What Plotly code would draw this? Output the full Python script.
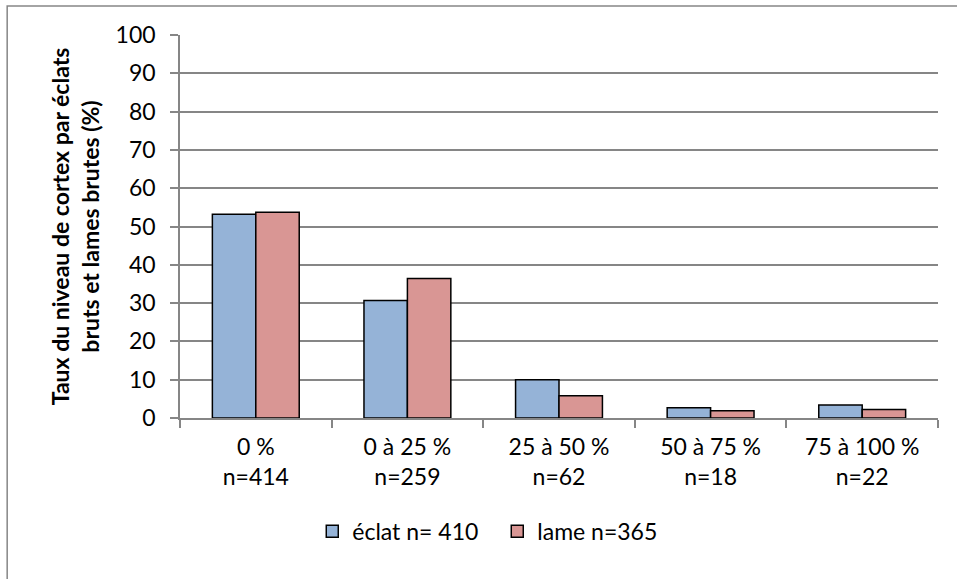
import plotly.graph_objects as go

# Cortex coverage classes with their total counts
categories = ["0 %<br>n=414", "0 à 25 %<br>n=259", "25 à 50 %<br>n=62",
              "50 à 75 %<br>n=18", "75 à 100 %<br>n=22"]
eclat_values = [53.2, 30.7, 10.0, 2.7, 3.4]
lame_values = [53.7, 36.4, 5.8, 1.9, 2.2]
eclat_name = "éclat n= 410"
lame_name = "lame n=365"
y_ticks = [0, 10, 20, 30, 40, 50, 60, 70, 80, 90, 100]

font_family = "Lato, Open Sans, sans-serif"
grid_color = "#868686"
fs = 23

fig = go.Figure()
fig.add_trace(go.Bar(
    x=categories, y=eclat_values, name=eclat_name,
    marker=dict(color="#95B3D7", line=dict(color="#000000", width=1.5)),
))
fig.add_trace(go.Bar(
    x=categories, y=lame_values, name=lame_name,
    marker=dict(color="#D99694", line=dict(color="#000000", width=1.5)),
))

fig.update_layout(
    width=957, height=579,
    margin=dict(l=180, r=19, t=35, b=161),
    paper_bgcolor="white", plot_bgcolor="white",
    barmode="group", bargap=0.427, bargroupgap=0,
    font=dict(family=font_family, size=fs, color="#000000"),
    showlegend=True,
    legend=dict(orientation="h", x=0.1745, xanchor="left", y=-0.24, yanchor="top",
                font=dict(size=fs), traceorder="normal", itemwidth=30,
                entrywidth=140),
    shapes=[dict(type="rect", xref="paper", yref="paper",
                 x0=-0.228, x1=1.1, y0=-0.45, y1=1.076,
                 line=dict(color="#868686", width=1.5), fillcolor="rgba(0,0,0,0)",
                 layer="below")],
)

fig.update_xaxes(
    type="category",
    showline=True, linecolor=grid_color, linewidth=1.5,
    ticks="outside", tickson="boundaries", ticklen=8, tickcolor=grid_color, tickwidth=1.5,
    showgrid=False, tickfont=dict(size=fs), ticklabelstandoff=8,
)
fig.update_yaxes(
    range=[0, 100], tickvals=y_ticks,
    showline=True, linecolor=grid_color, linewidth=1.5,
    ticks="outside", ticklen=8, tickcolor=grid_color, tickwidth=1.5,
    showgrid=True, gridcolor=grid_color, gridwidth=1.5,
    zeroline=False, tickfont=dict(size=fs), ticklabelstandoff=10,
    title=dict(text="<b>Taux du niveau de cortex par éclats<br>bruts et lames brutes (%)</b>",
               font=dict(size=fs), standoff=10),
)

fig.write_html("out.html")
